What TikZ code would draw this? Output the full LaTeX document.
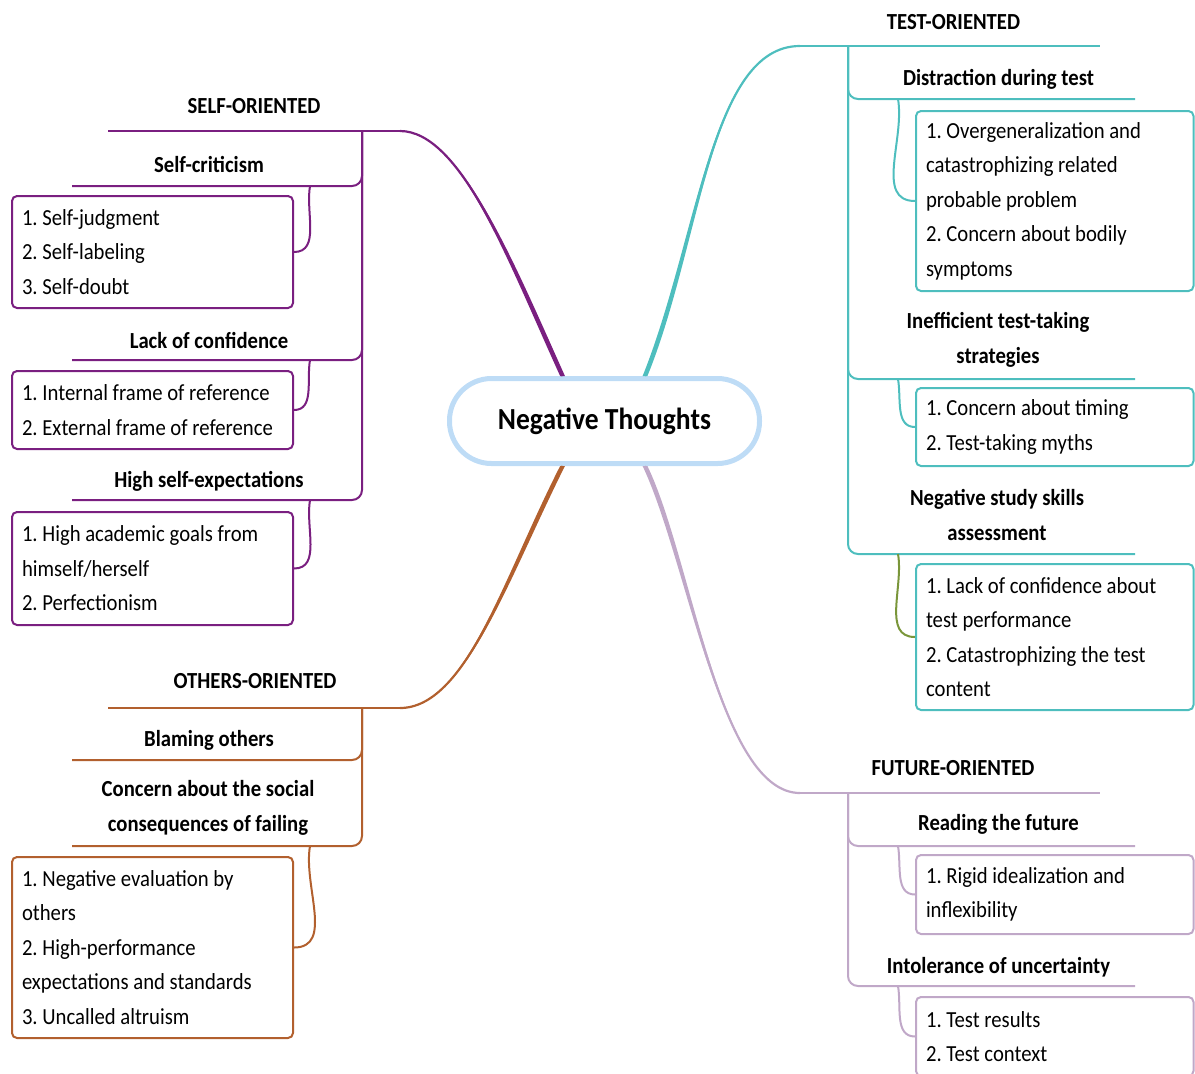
\documentclass[tikz,border=0pt]{standalone}
\usepackage{fontspec}
\setmainfont{Carlito}[FakeStretch=0.9]
\usetikzlibrary{positioning}

\definecolor{selfcol}{RGB}{122,31,128}
\definecolor{testcol}{RGB}{78,190,190}
\definecolor{othcol}{RGB}{178,96,46}
\definecolor{futcol}{RGB}{192,168,200}
\definecolor{studcol}{RGB}{122,150,58}
\definecolor{ctrcol}{RGB}{190,220,246}

\begin{document}
\begin{tikzpicture}[x=0.5pt, y=-0.5pt,
    head/.style={font=\fontsize{11.5}{17.25}\selectfont\bfseries, align=center, inner sep=0pt},
    itembox/.style={draw, line width=1pt, rounded corners=2.5pt, font=\fontsize{11.5}{17.25}\selectfont\frenchspacing, align=flush left, inner xsep=5pt, inner ysep=0pt},
    lbox/.style={itembox, text width=130.5pt},
    rbox/.style={itembox, text width=128.75pt},
    branch/.style={line width=1.1pt},
    stem/.style={line width=1pt, rounded corners=5pt},
    twig/.style={line width=1pt}]
\useasboundingbox (0,0) rectangle (1195,1073);
\clip (0,0) rectangle (1195,1073);

\node[draw=ctrcol, line width=2.5pt, rounded corners=21pt, minimum width=155pt, minimum height=42.5pt, font=\fontsize{15.3}{18}\selectfont\bfseries] (ctr) at (604.5,421) {Negative Thoughts};

% self-oriented
\node[head] (self) at (254,106) {SELF-ORIENTED};
\coordinate (selfE) at (400,131);
\coordinate (selfW) at (108,131);
\coordinate (selfF) at (362,131);
\draw[selfcol, branch] (ctr.133) .. controls (510,260) and (460,131) .. (selfE);
\fill[selfcol] ([xshift=-1.2pt]ctr.133) .. controls (508,262) and (460,131) .. (selfE)
    .. controls (460,131) and (512,258) .. ([xshift=1.2pt]ctr.133) -- cycle;
\draw[selfcol, twig] (selfE) -- (selfW);

\node[head] (scrit) at (209,164) {Self-criticism};
\coordinate (scritW) at (72,186);
\coordinate (scritK) at (310,186);
\node[lbox, draw=selfcol, minimum height=56pt] (scritB) at (152.5,252) {1. Self-judgment\\2. Self-labeling\\3. Self-doubt};
\draw[selfcol, stem] (selfF) |- (scritW);
\draw[selfcol, twig] (scritK) to[out=-100, in=0] (scritB.east);

\node[head] (lack) at (209,340) {Lack of confidence};
\coordinate (lackW) at (72,360);
\coordinate (lackK) at (310,360);
\node[lbox, draw=selfcol, minimum height=39pt] (lackB) at (152.5,410) {1. Internal frame of reference\\2. External frame of reference};
\draw[selfcol, stem] (selfF) |- (lackW);
\draw[selfcol, twig] (lackK) to[out=-100, in=0] (lackB.east);

\node[head] (high) at (209,481) {High self-expectations};
\coordinate (highW) at (72,500);
\coordinate (highK) at (310,500);
\node[lbox, draw=selfcol, minimum height=56.5pt] (highB) at (152.5,568.5) {1. High academic goals from\\himself/herself\\2. Perfectionism};
\draw[selfcol, stem] (selfF) |- (highW);
\draw[selfcol, twig] (highK) to[out=-100, in=0] (highB.east);

% others-oriented
\node[head] (oth) at (255,681) {OTHERS-ORIENTED};
\coordinate (othE) at (400,708);
\coordinate (othW) at (108,708);
\coordinate (othF) at (362,708);
\draw[othcol, branch] (ctr.227) .. controls (505,580) and (465,708) .. (othE);
\fill[othcol] ([xshift=-1.2pt]ctr.227) .. controls (503,578) and (465,708) .. (othE)
    .. controls (465,708) and (507,582) .. ([xshift=1.2pt]ctr.227) -- cycle;
\draw[othcol, twig] (othE) -- (othW);

\node[head] (blame) at (209,740) {Blaming others};
\coordinate (blameW) at (72,760);
\draw[othcol, stem] (othF) |- (blameW);

\node[head] (conc) at (208,808) {Concern about the social\\consequences of failing};
\coordinate (concW) at (72,846);
\coordinate (concK) at (310,846);
\node[lbox, draw=othcol, minimum height=90.5pt] (concB) at (152.5,947.5) {1. Negative evaluation by\\others\\2. High-performance\\expectations and standards\\3. Uncalled altruism};
\draw[othcol, stem] (othF) |- (concW);
\draw[othcol, twig] (concK) to[out=-100, in=0] (concB.east);

% test-oriented
\node[head] (test) at (953.5,22) {TEST-ORIENTED};
\coordinate (testW) at (800,46);
\coordinate (testE) at (1100,46);
\coordinate (testF) at (848,46);
\draw[testcol, branch] (ctr.48) .. controls (700,240) and (710,46) .. (testW);
\fill[testcol] ([xshift=-1.2pt]ctr.48) .. controls (698,238) and (710,46) .. (testW)
    .. controls (710,46) and (702,242) .. ([xshift=1.2pt]ctr.48) -- cycle;
\draw[testcol, twig] (testW) -- (testE);

\node[head] (dist) at (998.5,79) {Distraction during test};
\coordinate (distE) at (1135,99);
\coordinate (distK) at (898,99);
\node[rbox, draw=testcol, minimum height=90pt] (distB) at (1054.75,201) {1. Overgeneralization and\\catastrophizing related\\probable problem\\2. Concern about bodily\\symptoms};
\draw[testcol, stem] (testF) |- (distE);
\draw[testcol, twig] (distK) to[out=-80, in=180] (distB.west);

\node[head] (ineff) at (998,340) {Inefficient test-taking\\strategies};
\coordinate (ineffE) at (1135,379);
\coordinate (ineffK) at (898,379);
\node[rbox, draw=testcol, minimum height=39pt] (ineffB) at (1054.75,427) {1. Concern about timing\\2. Test-taking myths};
\draw[testcol, stem] (testF) |- (ineffE);
\draw[testcol, twig] (ineffK) to[out=-80, in=180] (ineffB.west);

\node[head] (study) at (997,515) {Negative study skills\\assessment};
\coordinate (studyE) at (1135,554);
\coordinate (studyK) at (898,554);
\node[rbox, draw=testcol, minimum height=73pt] (studyB) at (1054.75,637) {1. Lack of confidence about\\test performance\\2. Catastrophizing the test\\content};
\draw[testcol, stem] (testF) |- (studyE);
\draw[studcol, twig] (studyK) to[out=-80, in=180] (studyB.west);

% future-oriented
\node[head] (fut) at (953,768) {FUTURE-ORIENTED};
\coordinate (futW) at (800,793);
\coordinate (futE) at (1100,793);
\coordinate (futF) at (848,793);
\draw[futcol, branch] (ctr.312) .. controls (690,560) and (720,793) .. (futW);
\fill[futcol] ([xshift=-1.2pt]ctr.312) .. controls (688,562) and (720,793) .. (futW)
    .. controls (720,793) and (692,558) .. ([xshift=1.2pt]ctr.312) -- cycle;
\draw[futcol, twig] (futW) -- (futE);

\node[head] (read) at (998.5,824) {Reading the future};
\coordinate (readE) at (1135,846);
\coordinate (readK) at (898,846);
\node[rbox, draw=futcol, minimum height=39.5pt] (readB) at (1054.75,894.5) {1. Rigid idealization and\\inflexibility};
\draw[futcol, stem] (futF) |- (readE);
\draw[futcol, twig] (readK) to[out=-80, in=180] (readB.west);

\node[head] (intol) at (998.5,967) {Intolerance of uncertainty};
\coordinate (intolE) at (1135,986);
\coordinate (intolK) at (898,986);
\node[rbox, draw=futcol, minimum height=39.5pt] (intolB) at (1054.75,1036.5) {1. Test results\\2. Test context};
\draw[futcol, stem] (futF) |- (intolE);
\draw[futcol, twig] (intolK) to[out=-80, in=180] (intolB.west);
\end{tikzpicture}
\end{document}
